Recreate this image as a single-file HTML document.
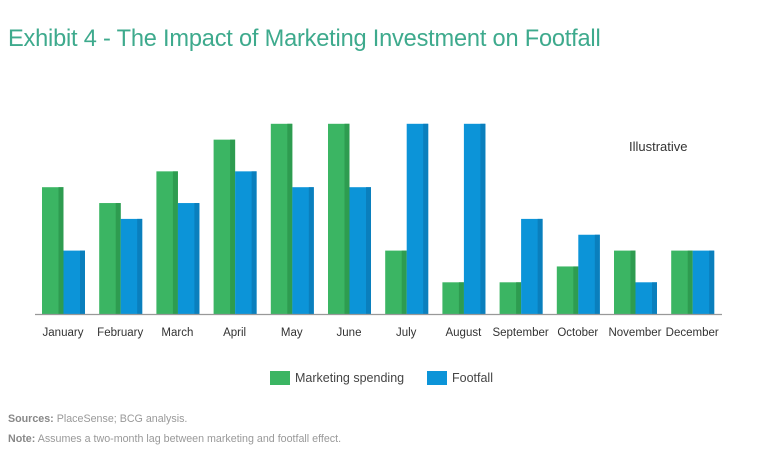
<!DOCTYPE html>
<html><head><meta charset="utf-8">
<style>
body{margin:0;background:#fff;width:768px;height:473px;overflow:hidden;font-family:"Liberation Sans",sans-serif;}
#title{position:absolute;left:8px;top:26px;font-size:23.6px;color:#3eaa8d;letter-spacing:-0.2px;}
.src{position:absolute;left:8px;font-size:10.7px;color:#999;}
.src b{color:#888;}
</style></head><body>
<div id="title">Exhibit 4 - The Impact of Marketing Investment on Footfall</div>
<svg id="chart" width="768" height="473" style="position:absolute;left:0;top:0"></svg>
<div class="src" style="top:413px"><b>Sources:</b> PlaceSense; BCG analysis.</div>
<div class="src" style="top:433px"><b>Note:</b> Assumes a two-month lag between marketing and footfall effect.</div>
<script>
const months=["January","February","March","April","May","June","July","August","September","October","November","December"];
const marketing=[8,7,9,11,12,12,4,2,2,3,4,4];
const footfall=[4,6,7,9,8,8,12,12,6,5,2,4];
const NS="http://www.w3.org/2000/svg";
const svg=document.getElementById('chart');
const baseY=314, unit=15.85, x0=42, step=57.2, bw=21.5;
const yS=v=>baseY-v*unit;
const xS=i=>x0+i*step;
function mk(t,a){const e=document.createElementNS(NS,t);for(const k in a)e.setAttribute(k,a[k]);svg.appendChild(e);return e;}
function bar(i,v,off,c,d,name){
  const g=mk('g',{});
  
  
  const x=xS(i)+off,y=yS(v),h=baseY-y;
  const r=document.createElementNS(NS,'rect');r.setAttribute('x',x);r.setAttribute('y',y);r.setAttribute('width',bw);r.setAttribute('height',h);r.setAttribute('fill',c);g.appendChild(r);
  const s=document.createElementNS(NS,'rect');s.setAttribute('x',x+bw-5);s.setAttribute('y',y);s.setAttribute('width',5);s.setAttribute('height',h);s.setAttribute('fill',d);g.appendChild(s);
}
months.forEach((m,i)=>{
  bar(i,marketing[i],0,'#3bb563','#2e9c50','bar-marketing-'+m.toLowerCase());
  bar(i,footfall[i],bw,'#0c94d8','#0a7fbd','bar-footfall-'+m.toLowerCase());
  const t=mk('text',{x:xS(i)+bw-0.5,y:336,'text-anchor':'middle','font-size':11.5,fill:'#333'});
  
  
  t.textContent=m;
});
const ax=mk('line',{x1:35,x2:722,y1:baseY+0.5,y2:baseY+0.5,stroke:'#999','stroke-width':1.2});


const il=mk('text',{x:629,y:151,'font-size':13,fill:'#333'});


il.textContent='Illustrative';
const l1=mk('rect',{x:270,y:371,width:20,height:14,fill:'#3bb563'});


const lt1=mk('text',{x:295,y:382,'font-size':12.5,fill:'#444'});


lt1.textContent='Marketing spending';
const l2=mk('rect',{x:427,y:371,width:20,height:14,fill:'#0c94d8'});


const lt2=mk('text',{x:452,y:382,'font-size':12.5,fill:'#444'});


lt2.textContent='Footfall';
</script>
</body></html>
